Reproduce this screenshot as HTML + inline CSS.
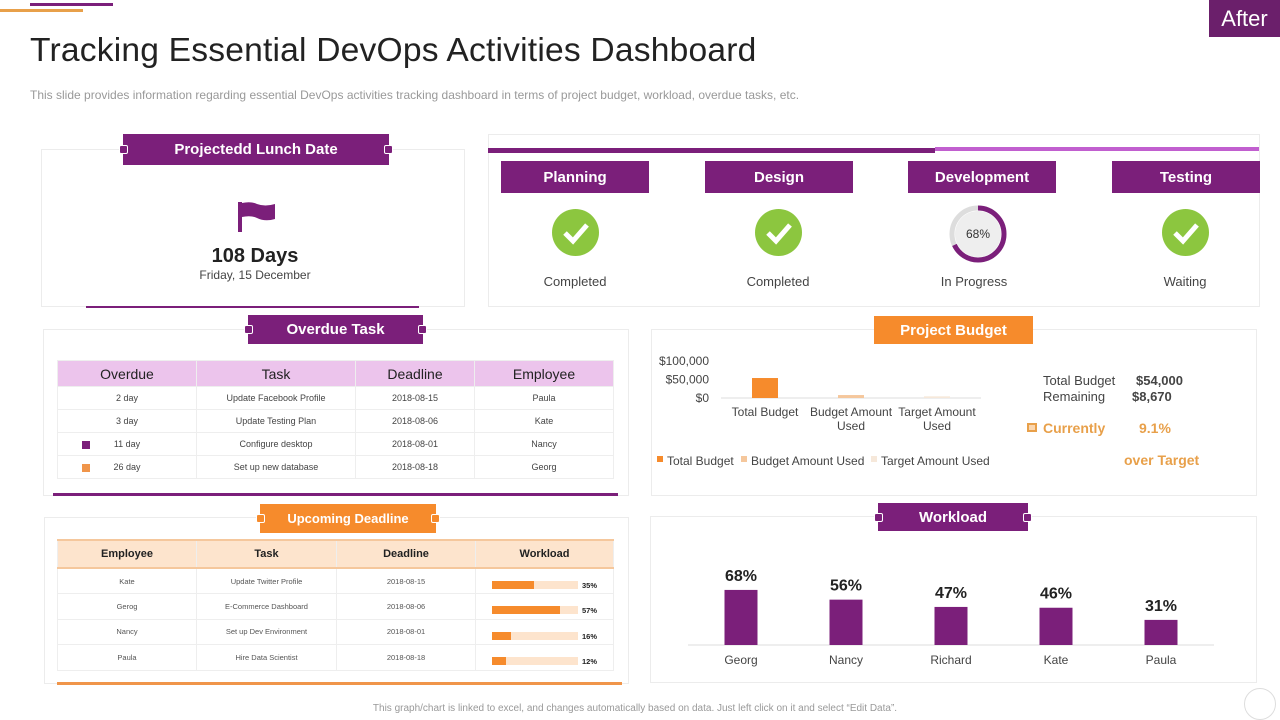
<!DOCTYPE html>
<html><head><meta charset="utf-8">
<style>
*{box-sizing:border-box;margin:0;padding:0}
body{width:1280px;height:720px;background:#fff;font-family:"Liberation Sans",sans-serif;position:relative;overflow:hidden;color:#333}
.a{position:absolute}
.box{position:absolute;border:1px solid #ececec;background:#fff}
.tag{position:absolute;color:#fff;font-weight:bold;font-size:15px;text-align:center;display:flex;align-items:center;justify-content:center}
.pur{background:#7b1f7a}.org{background:#f68b2c}
.dot{position:absolute;width:9px;height:9px;border-radius:2px;background:#7b1f7a;border:1px solid #fff;top:50%;margin-top:-4.5px}
table{border-collapse:collapse;position:absolute}
td,th{text-align:center;border:1px solid #eee}
.t1 th{background:#ecc4ec;font-size:14px;font-weight:normal;color:#222;height:26px}
.t1 td{font-size:9px;color:#444;height:23px}
.t2 th{background:#fde4cd;font-size:11px;font-weight:bold;color:#222;height:28px;border-top:2px solid #f5c79c;border-bottom:2px solid #f5c79c}
.t2 td{font-size:7.5px;color:#555;height:25.5px}
.stage{position:absolute;width:148px;height:32px;top:161px;background:#7b1f7a;color:#fff;font-weight:bold;font-size:15px;display:flex;align-items:center;justify-content:center}
.chk{position:absolute;top:209px;width:47px;height:47px;border-radius:50%;background:#8cc63f}
.st{position:absolute;top:274px;width:160px;text-align:center;font-size:13px;color:#444}
</style></head><body>
<div class="a" style="left:30px;top:3px;width:83px;height:3px;background:#7b1f7a"></div>
<div class="a" style="left:0;top:9px;width:83px;height:3px;background:#e8a04a"></div>
<div class="a" style="left:1209px;top:0;width:71px;height:37px;background:#6b1f6b;color:#fff;font-size:22px;display:flex;align-items:center;justify-content:center">After</div>
<div class="a" style="left:30px;top:32px;font-size:33.6px;color:#222;letter-spacing:0.2px">Tracking Essential DevOps Activities Dashboard</div>
<div class="a" style="left:30px;top:88px;font-size:12px;color:#999">This slide provides information regarding essential DevOps activities tracking dashboard in terms of project budget, workload, overdue tasks, etc.</div>

<!-- launch date -->
<div class="box" style="left:41px;top:149px;width:424px;height:158px"></div>
<div class="tag pur" style="left:123px;top:134px;width:266px;height:31px">Projectedd Lunch Date<span class="dot" style="left:-4px"></span><span class="dot" style="right:-4px"></span></div>
<svg class="a" style="left:237px;top:202px" width="40" height="30"><rect x="1" y="0" width="4" height="30" fill="#7b1f7a"/><path d="M5 1 Q14 -1 20 2 Q28 5 38 2 V17 Q28 20 20 16 Q14 13 5 15Z" fill="#7b1f7a"/></svg>
<div class="a" style="left:155px;top:245px;width:200px;text-align:center;font-size:20px;font-weight:bold;color:#222">108 Days</div>
<div class="a" style="left:155px;top:268px;width:200px;text-align:center;font-size:12px;color:#444">Friday, 15 December</div>
<div class="a" style="left:86px;top:306px;width:333px;height:2px;background:#7b1f7a"></div>

<!-- stages -->
<div class="box" style="left:488px;top:134px;width:772px;height:173px"></div>
<div class="a" style="left:488px;top:148px;width:447px;height:5px;background:#7b1f7a"></div>
<div class="a" style="left:935px;top:147px;width:324px;height:4px;background:#c15fcf"></div>
<div class="stage" style="left:501px">Planning</div>
<div class="stage" style="left:705px">Design</div>
<div class="stage" style="left:908px">Development</div>
<div class="stage" style="left:1112px">Testing</div>
<svg class="chk" style="left:552px" viewBox="0 0 47 47"><path d="M13 24 L21 32 L35 16" stroke="#fff" stroke-width="5" fill="none"/></svg>
<svg class="chk" style="left:755px" viewBox="0 0 47 47"><path d="M13 24 L21 32 L35 16" stroke="#fff" stroke-width="5" fill="none"/></svg>
<svg class="chk" style="left:1162px" viewBox="0 0 47 47"><path d="M13 24 L21 32 L35 16" stroke="#fff" stroke-width="5" fill="none"/></svg>
<svg class="a" style="left:947px;top:203px" width="62" height="62"><circle cx="31" cy="31" r="23" fill="#eee"/><circle cx="31" cy="31" r="26" fill="none" stroke="#ddd" stroke-width="5"/><circle cx="31" cy="31" r="26" fill="none" stroke="#7b1f7a" stroke-width="5" stroke-dasharray="111 164" transform="rotate(-90 31 31)"/><text x="31" y="35" text-anchor="middle" font-size="12" fill="#333" font-family="Liberation Sans">68%</text></svg>
<div class="st" style="left:495px">Completed</div>
<div class="st" style="left:698px">Completed</div>
<div class="st" style="left:894px">In Progress</div>
<div class="st" style="left:1105px">Waiting</div>

<!-- overdue -->
<div class="box" style="left:43px;top:329px;width:586px;height:167px"></div>
<div class="tag pur" style="left:248px;top:315px;width:175px;height:29px">Overdue Task<span class="dot" style="left:-4px"></span><span class="dot" style="right:-4px"></span></div>
<table class="t1" style="left:57px;top:360px;width:557px">
<tr><th style="width:139px">Overdue</th><th style="width:159px">Task</th><th style="width:119px">Deadline</th><th>Employee</th></tr>
<tr><td>2 day</td><td>Update Facebook Profile</td><td>2018-08-15</td><td>Paula</td></tr>
<tr><td>3 day</td><td>Update Testing Plan</td><td>2018-08-06</td><td>Kate</td></tr>
<tr><td style="position:relative"><span style="position:absolute;left:24px;top:8px;width:8px;height:8px;background:#7b1f7a"></span>11 day</td><td>Configure desktop</td><td>2018-08-01</td><td>Nancy</td></tr>
<tr><td style="position:relative"><span style="position:absolute;left:24px;top:8px;width:8px;height:8px;background:#f0954a"></span>26 day</td><td>Set up new database</td><td>2018-08-18</td><td>Georg</td></tr>
</table>
<div class="a" style="left:53px;top:493px;width:565px;height:3px;background:#7b1f7a"></div>

<!-- upcoming -->
<div class="box" style="left:44px;top:517px;width:585px;height:167px"></div>
<div class="tag org" style="left:260px;top:504px;width:176px;height:29px;font-size:13px">Upcoming Deadline<span class="dot" style="left:-4px;background:#f68b2c"></span><span class="dot" style="right:-4px;background:#f68b2c"></span></div>
<table class="t2" style="left:57px;top:539px;width:557px">
<tr><th style="width:139px">Employee</th><th style="width:140px">Task</th><th style="width:139px">Deadline</th><th>Workload</th></tr>
<tbody id="upBody"></tbody>
</table>
<div class="a" style="left:57px;top:682px;width:565px;height:3px;background:#f0954a"></div>

<!-- budget -->
<div class="box" style="left:651px;top:329px;width:606px;height:167px"></div>
<div class="tag org" style="left:874px;top:316px;width:159px;height:28px">Project Budget</div>
<svg class="a" id="budgetSvg" style="left:651px;top:345px" width="360" height="130"></svg>
<div class="a" style="left:1043px;top:373px;font-size:13px;color:#444">Total Budget</div>
<div class="a" style="left:1136px;top:373px;font-size:13px;font-weight:bold;color:#444">$54,000</div>
<div class="a" style="left:1043px;top:389px;font-size:13px;color:#444">Remaining</div>
<div class="a" style="left:1132px;top:389px;font-size:13px;font-weight:bold;color:#444">$8,670</div>
<div class="a" style="left:1027px;top:423px;width:10px;height:9px;border:2px solid #e8a04a;background:#fbd7b0"></div>
<div class="a" style="left:1043px;top:420px;font-size:14px;font-weight:bold;color:#e8a04a">Currently</div>
<div class="a" style="left:1139px;top:420px;font-size:14px;font-weight:bold;color:#e8a04a">9.1%</div>
<div class="a" style="left:1124px;top:452px;font-size:14px;font-weight:bold;color:#e8a04a">over Target</div>

<!-- workload -->
<div class="box" style="left:650px;top:516px;width:607px;height:167px"></div>
<div class="tag pur" style="left:878px;top:503px;width:150px;height:28px">Workload<span class="dot" style="left:-4px"></span><span class="dot" style="right:-4px"></span></div>
<svg class="a" id="wlSvg" style="left:650px;top:540px" width="607" height="140"></svg>

<div class="a" style="left:0;top:703px;width:1270px;text-align:center;font-size:10px;color:#999">This graph/chart is linked to excel, and changes automatically based on data. Just left click on it and select “Edit Data”.</div>
<div class="a" style="left:1244px;top:688px;width:32px;height:32px;border-radius:50%;border:1px solid #ddd"></div>

<script>
const upEmployees=["Kate","Gerog","Nancy","Paula"];
const upTasks=["Update  Twitter Profile","E-Commerce Dashboard","Set up Dev Environment","Hire Data Scientist"];
const upDates=["2018-08-15","2018-08-06","2018-08-01","2018-08-18"];
const upWorkload=[35,57,16,12];

const budgetCats=[["Total Budget"],["Budget Amount","Used"],["Target Amount","Used"]];
const budgetVals=[54000,8000,4500];
const budgetTicks=[0,50000,100000];
const budgetTickLabels=["$0","$50,000","$100,000"];
const budgetColors=["#f68b2c","#f5c79c","#f6e8da"];

const wlNames=["Georg","Nancy","Richard","Kate","Paula"];
const wlVals=[68,56,47,46,31];

const NS="http://www.w3.org/2000/svg";
function mk(p,t,a){const e=document.createElementNS(NS,t);for(const k in a)e.setAttribute(k,a[k]);p.appendChild(e);return e;}

// upcoming table
const tb=document.getElementById('upBody');
upEmployees.forEach((n,i)=>{
  const tr=document.createElement('tr');
  
  
  const w=upWorkload[i];
  tr.innerHTML=`<td>${n}</td><td>${upTasks[i]}</td><td>${upDates[i]}</td><td style="position:relative"><div style="position:absolute;left:16px;top:12px;width:86px;height:8px;background:#fde4cd"><div style="width:${Math.min(86,w*1.2)}px;height:8px;background:#f68b2c"></div></div><span style="position:absolute;left:106px;top:12px;font-size:7.5px;font-weight:bold;color:#222">${w}%</span></td>`;
  tb.appendChild(tr);
});

// budget chart
const bs=document.getElementById('budgetSvg');
const bBase=53, bScale=37/100000;
const by=v=>bBase-v*bScale;
const bx=i=>114+i*86;
budgetTicks.forEach((t,i)=>{
  const tx=mk(bs,'text',{x:58,y:by(t)+4,'text-anchor':'end','font-size':12,fill:'#444','font-family':'Liberation Sans'});tx.textContent=budgetTickLabels[i];
  
  
});
mk(bs,'line',{x1:70,x2:330,y1:bBase,y2:bBase,stroke:'#ddd'});
budgetVals.forEach((v,i)=>{
  const r=mk(bs,'rect',{x:bx(i)-13,y:by(v),width:26,height:v*bScale,fill:budgetColors[i]});
  
  
  budgetCats[i].forEach((l,j)=>{const t=mk(bs,'text',{x:bx(i),y:71+j*14,'text-anchor':'middle','font-size':12,fill:'#444','font-family':'Liberation Sans'});t.textContent=l;});
});
let lx=6;
budgetCats.forEach((c,i)=>{
  mk(bs,'rect',{x:lx,y:111,width:6,height:6,fill:budgetColors[i]});
  const t=mk(bs,'text',{x:lx+10,y:120,'font-size':12,fill:'#444','font-family':'Liberation Sans'});t.textContent=c.join(' ');
  
  
  lx+=[84,130,0][i];
});

// workload chart
const ws=document.getElementById('wlSvg');
const wBase=105, wScale=0.81;
const wx=i=>91+i*105;
mk(ws,'line',{x1:38,x2:564,y1:wBase,y2:wBase,stroke:'#ddd'});
wlVals.forEach((v,i)=>{
  const r=mk(ws,'rect',{x:wx(i)-16.5,y:wBase-v*wScale,width:33,height:v*wScale,fill:'#7b1f7a'});
  
  
  const t=mk(ws,'text',{x:wx(i),y:wBase-v*wScale-9,'text-anchor':'middle','font-size':16,'font-weight':'bold',fill:'#222','font-family':'Liberation Sans'});t.textContent=v+'%';
  const n=mk(ws,'text',{x:wx(i),y:wBase+19,'text-anchor':'middle','font-size':12,fill:'#444','font-family':'Liberation Sans'});n.textContent=wlNames[i];
});
</script>
</body></html>
